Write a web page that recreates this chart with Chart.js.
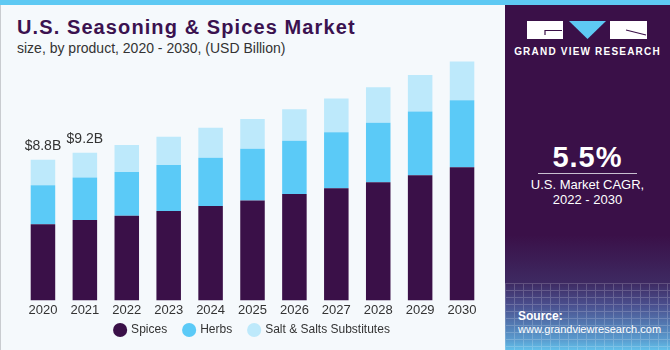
<!DOCTYPE html>
<html>
<head>
<meta charset="utf-8">
<script src="https://cdn.jsdelivr.net/npm/chart.js@4.4.0/dist/chart.umd.min.js"></script>
<style>
  html, body { margin: 0; padding: 0; }
  body { width: 670px; height: 350px; position: relative; overflow: hidden; background: #f5f9fc; font-family: "Liberation Sans", Arial, sans-serif; }
  #topbar { position: absolute; left: 0; top: 0; width: 670px; height: 5px; background: #5ec9f3; }
  #leftline { position: absolute; left: 0; top: 5px; width: 1px; height: 345px; background: #c9ccd0; }
  #title { position: absolute; left: 17px; top: 16px; font-size: 20px; font-weight: bold; color: #3b1250; letter-spacing: 1.1px; white-space: nowrap; }
  #subtitle { position: absolute; left: 17px; top: 40px; font-size: 14px; color: #333; white-space: nowrap; }
  #wrap { position: absolute; left: 0; top: 0; width: 505px; height: 359px; }
  #panel { position: absolute; left: 505px; top: 5px; width: 165px; height: 345px;
    background: linear-gradient(to bottom, #3a1048 0px, #3a1048 230px, #3e2a62 278px, #4a4f8e 300px, #5a9ccf 335px, #62c0ea 345px); }
  #grid { position: absolute; left: 0; top: 278px; width: 165px; height: 67px; opacity: 0.18;
    background-image: repeating-linear-gradient(to right, #fff 0px, #fff 1px, transparent 1px, transparent 9px),
                      repeating-linear-gradient(to bottom, #fff 0px, #fff 1px, transparent 1px, transparent 7px); }
  #panel .t { position: absolute; left: 0; width: 165px; text-align: center; color: #fff; white-space: nowrap; }
</style>
</head>
<body>
<div id="topbar"></div>
<div id="leftline"></div>
<div id="title">U.S. Seasoning &amp; Spices Market</div>
<div id="subtitle">size, by product, 2020 - 2030, (USD Billion)</div>
<div id="wrap"><canvas id="chart" width="505" height="359"></canvas></div>
<div id="panel">
  <div id="grid"></div>
  <svg width="165" height="40" style="position:absolute;left:0;top:10px">
    <rect x="22" y="6" width="36" height="18" fill="#ffffff"/>
    <path d="M57 15.5 H40 V20" stroke="#3a1048" stroke-width="1.2" fill="none"/>
    <path d="M64 6 H101 L82.5 24 Z" fill="#5ec9f3"/>
    <rect x="105" y="6" width="37" height="18" fill="#ffffff"/>
    <path d="M121 15 L141 20" stroke="#3a1048" stroke-width="1.2" fill="none"/>
  </svg>
  <div class="t" style="top:41px;font-size:10px;font-weight:bold;letter-spacing:1.2px;">GRAND VIEW RESEARCH</div>
  <div class="t" style="top:136px;font-size:29px;font-weight:bold;letter-spacing:1px;">5.5%</div>
  <div style="position:absolute;left:33px;top:168px;width:99px;height:1px;background:#c8c0d0;"></div>
  <div class="t" style="top:172px;font-size:13px;">U.S. Market CAGR,</div>
  <div class="t" style="top:187px;font-size:13px;">2022 - 2030</div>
  <div class="t" style="top:304px;left:13px;text-align:left;font-size:12px;font-weight:bold;">Source:</div>
  <div class="t" style="top:318px;left:13px;text-align:left;font-size:11px;">www.grandviewresearch.com</div>
</div>
<script>
const years = ["2020","2021","2022","2023","2024","2025","2026","2027","2028","2029","2030"];
const spices = [4.76, 5.03, 5.30, 5.59, 5.90, 6.25, 6.65, 7.02, 7.39, 7.83, 8.32];
const herbs = [2.44, 2.65, 2.73, 2.88, 3.02, 3.23, 3.33, 3.50, 3.71, 3.98, 4.19];
const salt = [1.60, 1.55, 1.68, 1.76, 1.88, 1.86, 1.97, 2.11, 2.22, 2.28, 2.42];
const totalLabels = ["$8.8B", "$9.2B"];

const totalsPlugin = {
  id: 'totals',
  afterDatasetsDraw(chart) {
    const ctx = chart.ctx;
    const meta = chart.getDatasetMeta(2);
    ctx.save();
    ctx.font = '14px "Liberation Sans", Arial, sans-serif';
    ctx.fillStyle = '#333';
    ctx.textAlign = 'center';
    ctx.textBaseline = 'alphabetic';
    totalLabels.forEach(function(t, i) {
      const bar = meta.data[i];
      ctx.fillText(t, bar.x, bar.y - 10);
    });
    ctx.restore();
  }
};

// pull the legend closer to the year labels
const legendShift = {
  id: 'legendShift',
  afterLayout(chart) {
    chart.legend.top -= 13;
    chart.legend.bottom -= 13;
  }
};

new Chart(document.getElementById("chart"), {
  type: 'bar',
  data: {
    labels: years,
    datasets: [
      { label: 'Spices', data: spices, backgroundColor: '#3a1048' },
      { label: 'Herbs', data: herbs, backgroundColor: '#5bcaf7' },
      { label: 'Salt & Salts Substitutes', data: salt, backgroundColor: '#bde9fb' }
    ]
  },
  options: {
    responsive: false,
    animation: false,
    layout: { padding: { top: 60.5, left: 22, right: 22, bottom: 0 } },
    datasets: { bar: { categoryPercentage: 1, barPercentage: 0.585 } },
    scales: {
      x: {
        stacked: true,
        grid: { display: false, drawTicks: false },
        border: { display: false },
        ticks: { color: '#333', padding: 2, font: { size: 13, family: '"Liberation Sans", Arial, sans-serif' } }
      },
      y: { stacked: true, display: false, min: 0, max: 15 }
    },
    plugins: {
      legend: {
        position: 'bottom',
        labels: {
          usePointStyle: true, pointStyle: 'circle', boxWidth: 10, boxHeight: 10, padding: 17,
          color: '#333', font: { size: 12, family: '"Liberation Sans", Arial, sans-serif' }
        }
      },
      tooltip: { enabled: false }
    }
  },
  plugins: [totalsPlugin, legendShift]
});
</script>
</body>
</html>
